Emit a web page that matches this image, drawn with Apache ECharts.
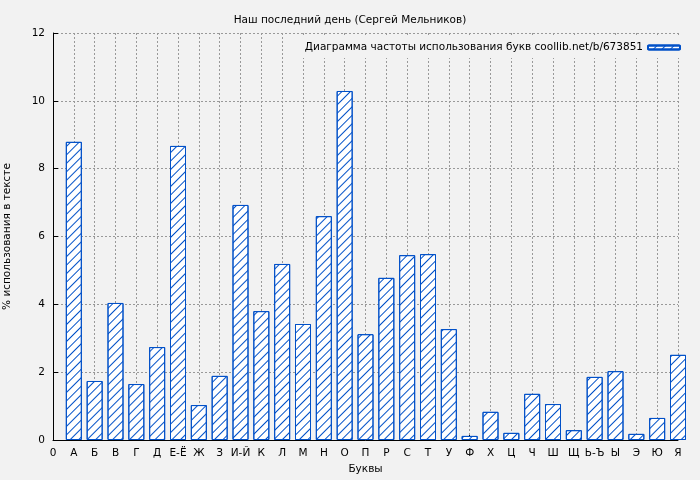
<!DOCTYPE html>
<html><head><meta charset="utf-8">
<script src="https://cdn.jsdelivr.net/npm/echarts@6/dist/echarts.min.js"></script>
<style>body{margin:0;background:#f2f2f2}#c{width:700px;height:480px}</style>
</head><body><div id="c"></div>
<script>
const categories = ['0','А','Б','В','Г','Д','Е-Ё','Ж','З','И-Й','К','Л','М','Н','О','П','Р','С','Т','У','Ф','Х','Ц','Ч','Ш','Щ','Ь-Ъ','Ы','Э','Ю','Я'];
const values = [8.79,1.74,4.04,1.65,2.74,8.67,1.03,1.89,6.93,3.80,5.19,3.42,6.60,10.29,3.12,4.78,5.45,5.48,3.27,0.12,0.83,0.21,1.36,1.06,0.29,1.86,2.03,0.18,0.65,2.51];
const yTicks = [0,2,4,6,8,10,12];
const seriesName = 'Диаграмма частоты использования букв coollib.net/b/673851';
const chart = echarts.init(document.getElementById('c'));
chart.setOption({
  backgroundColor:'#f2f2f2',
  animation:false,
  title:{text:'Наш последний день (Сергей Мельников)',left:'center',top:10,textStyle:{fontSize:10.5,fontWeight:'normal',color:'#000',fontFamily:'DejaVu Sans'}},
  legend:{top:37,right:14,itemWidth:32,itemHeight:4,itemGap:6,textStyle:{fontSize:10.5,color:'#000',fontFamily:'DejaVu Sans'},
    data:[{name:seriesName}],align:'right',backgroundColor:'#f2f2f2'},
  grid:{left:53,right:22,top:33,bottom:40,outerBoundsMode:'none',containLabel:false},
  xAxis:{type:'value',min:0,max:30,interval:1,name:'Буквы',nameLocation:'middle',nameGap:24,
    nameTextStyle:{fontSize:10.5,color:'#000',fontFamily:'DejaVu Sans'},
    axisLine:{lineStyle:{color:'#000'}},axisTick:{inside:true,lineStyle:{color:'#000'}},
    axisLabel:{formatter:v=>categories[v]||'',color:'#000',fontSize:10.5,fontFamily:'DejaVu Sans'},
    splitLine:{show:true,lineStyle:{type:[2,2],color:'#999'}}},
  yAxis:{type:'value',min:0,max:12,interval:2,name:'% использования в тексте',nameLocation:'middle',nameGap:40,
    nameTextStyle:{fontSize:10.5,color:'#000',fontFamily:'DejaVu Sans'},
    axisLine:{show:true,lineStyle:{color:'#000'}},axisTick:{inside:true,lineStyle:{color:'#000'}},
    axisLabel:{formatter:v=>yTicks.includes(v)?String(v):'',color:'#000',fontSize:10.5,fontFamily:'DejaVu Sans'},
    splitLine:{show:true,lineStyle:{type:[2,2],color:'#999'}}},
  series:[{type:'bar',name:seriesName,barWidth:16,clip:true,
    data:values.map((v,i)=>[i+1,v]),
    itemStyle:{color:'#ffffff',borderColor:'#0050c8',borderWidth:1,
      decal:{symbol:'rect',symbolSize:1,dashArrayX:[1,0],dashArrayY:[0.8,5],rotation:-Math.PI/4,color:'#0050c8'}}}]
});
</script></body></html>
